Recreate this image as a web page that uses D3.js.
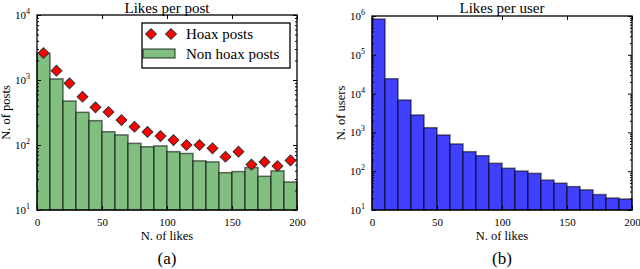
<!DOCTYPE html>
<html>
<head>
<meta charset="utf-8">
<script src="https://cdn.jsdelivr.net/npm/d3@7"></script>
<style>
  body { margin: 0; background: #fff; }
  text { font-family: "Liberation Serif", "DejaVu Serif", serif; fill: #000; }
</style>
</head>
<body>
<div id="chart"></div>
<script>
// bins of 10 likes, 0..200
const binStarts = d3.range(0, 200, 10);
const nonHoaxPosts = [2570, 1040, 475, 318, 237, 160, 143, 106, 94, 97, 79, 74, 57, 55, 37.5, 39, 45, 33, 40, 27];
const hoaxPosts = [2600, 1390, 890, 553, 380, 322, 242, 191, 159, 137, 119, 100, 100, 89, 66, 79, 50, 55, 47.5, 58];
const usersPerBin = [835000, 24200, 6840, 2810, 1320, 857, 504, 318, 251, 160, 119, 101, 88, 59, 49, 40, 33, 25, 20.4, 19.2];
const xTicks = [0, 50, 100, 150, 200];

const W = 640, H = 269;
const svg = d3.select("#chart").append("svg")
  .attr("width", W)
  .attr("height", H);

function supLabel(sel, exp) {
  sel.text(null);
  sel.append("tspan").text("10");
  sel.append("tspan").attr("dy", -5).attr("font-size", "8px").text(exp);
}

function panel(opt) {
  const x = d3.scaleLinear().domain([0, 200]).range([opt.left, opt.right]);
  const y = d3.scaleLog().domain([10, opt.ymax]).range([opt.bottom, opt.top]);
  const g = svg.append("g");

  // bars
  g.append("g").selectAll("rect")
    .data(opt.bars)
    .enter().append("rect")
    .attr("x", (d, i) => x(binStarts[i]))
    .attr("width", (d, i) => x(binStarts[i] + 10) - x(binStarts[i]))
    .attr("y", d => y(d))
    .attr("height", d => opt.bottom - y(d))
    .attr("fill", opt.fill)
    .attr("stroke", "#000")
    .attr("stroke-opacity", 0.55)
    .attr("stroke-width", 1.5);

  // axes frame
  g.append("rect")
    .attr("x", opt.left).attr("y", opt.top)
    .attr("width", opt.right - opt.left).attr("height", opt.bottom - opt.top)
    .attr("fill", "none").attr("stroke", "#000").attr("stroke-width", 1.3);

  // x ticks inward, top and bottom
  g.append("g")
    .attr("transform", "translate(0," + opt.bottom + ")")
    .call(d3.axisBottom(x).tickValues(xTicks).tickSize(-4).tickPadding(8).tickFormat(d3.format("d")))
    .call(a => a.select(".domain").remove())
    .call(a => a.selectAll("text").attr("font-size", "11px").attr("fill", "#333"));
  g.append("g")
    .attr("transform", "translate(0," + opt.top + ")")
    .call(d3.axisTop(x).tickValues(xTicks).tickSize(-4).tickFormat(""))
    .call(a => a.select(".domain").remove());

  // y ticks, major + minor, left and right
  const decades = d3.range(1, Math.round(Math.log10(opt.ymax)) + 1).map(e => Math.pow(10, e));
  const minors = [];
  decades.slice(0, -1).forEach(dv => { for (let k = 2; k < 10; k++) minors.push(dv * k); });

  [[d3.axisLeft, opt.left], [d3.axisRight, opt.right]].forEach(([axisFn, px], side) => {
    g.append("g")
      .attr("transform", "translate(" + px + ",0)")
      .call(axisFn(y).tickValues(minors).tickSize(-2).tickFormat(""))
      .call(a => a.select(".domain").remove());
    const maj = g.append("g")
      .attr("transform", "translate(" + px + ",0)")
      .call(axisFn(y).tickValues(decades).tickSize(-4).tickPadding(7).tickFormat(""))
      .call(a => a.select(".domain").remove());
    if (side === 0) {
      maj.selectAll(".tick text")
        .attr("font-size", "11px")
        .attr("fill", "#333")
        .each(function(d) { supLabel(d3.select(this), Math.round(Math.log10(d))); });
    }
  });
  g.selectAll(".tick line").attr("stroke", "#000");

  // title & labels
  const cx = (opt.left + opt.right) / 2;
  g.append("text").attr("x", cx).attr("y", 12.5).attr("text-anchor", "middle")
    .attr("font-size", "15px").text(opt.title);
  g.append("text").attr("x", cx).attr("y", 240).attr("text-anchor", "middle")
    .attr("font-size", "12.5px").text("N. of likes");
  g.append("text").attr("x", cx).attr("y", 264).attr("text-anchor", "middle")
    .attr("font-size", "17px").text(opt.tag);
  g.append("text")
    .attr("transform", "translate(" + opt.ylabX + "," + ((opt.top + opt.bottom) / 2) + ") rotate(-90)")
    .attr("text-anchor", "middle").attr("font-size", "12.5px").text(opt.ylabel);

  return { g, x, y };
}

const left = panel({
  left: 37, right: 297, top: 15, bottom: 210, ymax: 1e4,
  bars: nonHoaxPosts, fill: "#80bf80",
  title: "Likes per post", ylabel: "N. of posts", tag: "(a)", ylabX: 10
});

const diamond = d3.symbol().type(d3.symbolSquare).size(58);
left.g.append("g").selectAll("path")
  .data(hoaxPosts)
  .enter().append("path")
  .attr("d", diamond)
  .attr("transform", (d, i) => "translate(" + left.x(binStarts[i] + 5) + "," + left.y(d) + ") rotate(45)")
  .attr("fill", "#ff0000")
  .attr("stroke", "#333")
  .attr("stroke-width", 1);

// legend
const lg = left.g.append("g");
lg.append("rect").attr("x", 142).attr("y", 23).attr("width", 148).attr("height", 45)
  .attr("fill", "#fff").attr("stroke", "#000").attr("stroke-width", 1.3);
[151, 171].forEach(px => {
  lg.append("path").attr("d", diamond)
    .attr("transform", "translate(" + px + ",34) rotate(45)")
    .attr("fill", "#ff0000").attr("stroke", "#333").attr("stroke-width", 1);
});
lg.append("rect").attr("x", 143).attr("y", 49).attr("width", 32).attr("height", 9)
  .attr("fill", "#80bf80").attr("stroke", "#000").attr("stroke-opacity", 0.55).attr("stroke-width", 1.5);
lg.append("text").attr("x", 186).attr("y", 39).attr("font-size", "15px").text("Hoax posts");
lg.append("text").attr("x", 186).attr("y", 59).attr("font-size", "15px").text("Non hoax posts");

panel({
  left: 372, right: 632, top: 16, bottom: 210, ymax: 1e6,
  bars: usersPerBin, fill: "#4040ff",
  title: "Likes per user", ylabel: "N. of users", tag: "(b)", ylabX: 345
});
</script>
</body>
</html>
